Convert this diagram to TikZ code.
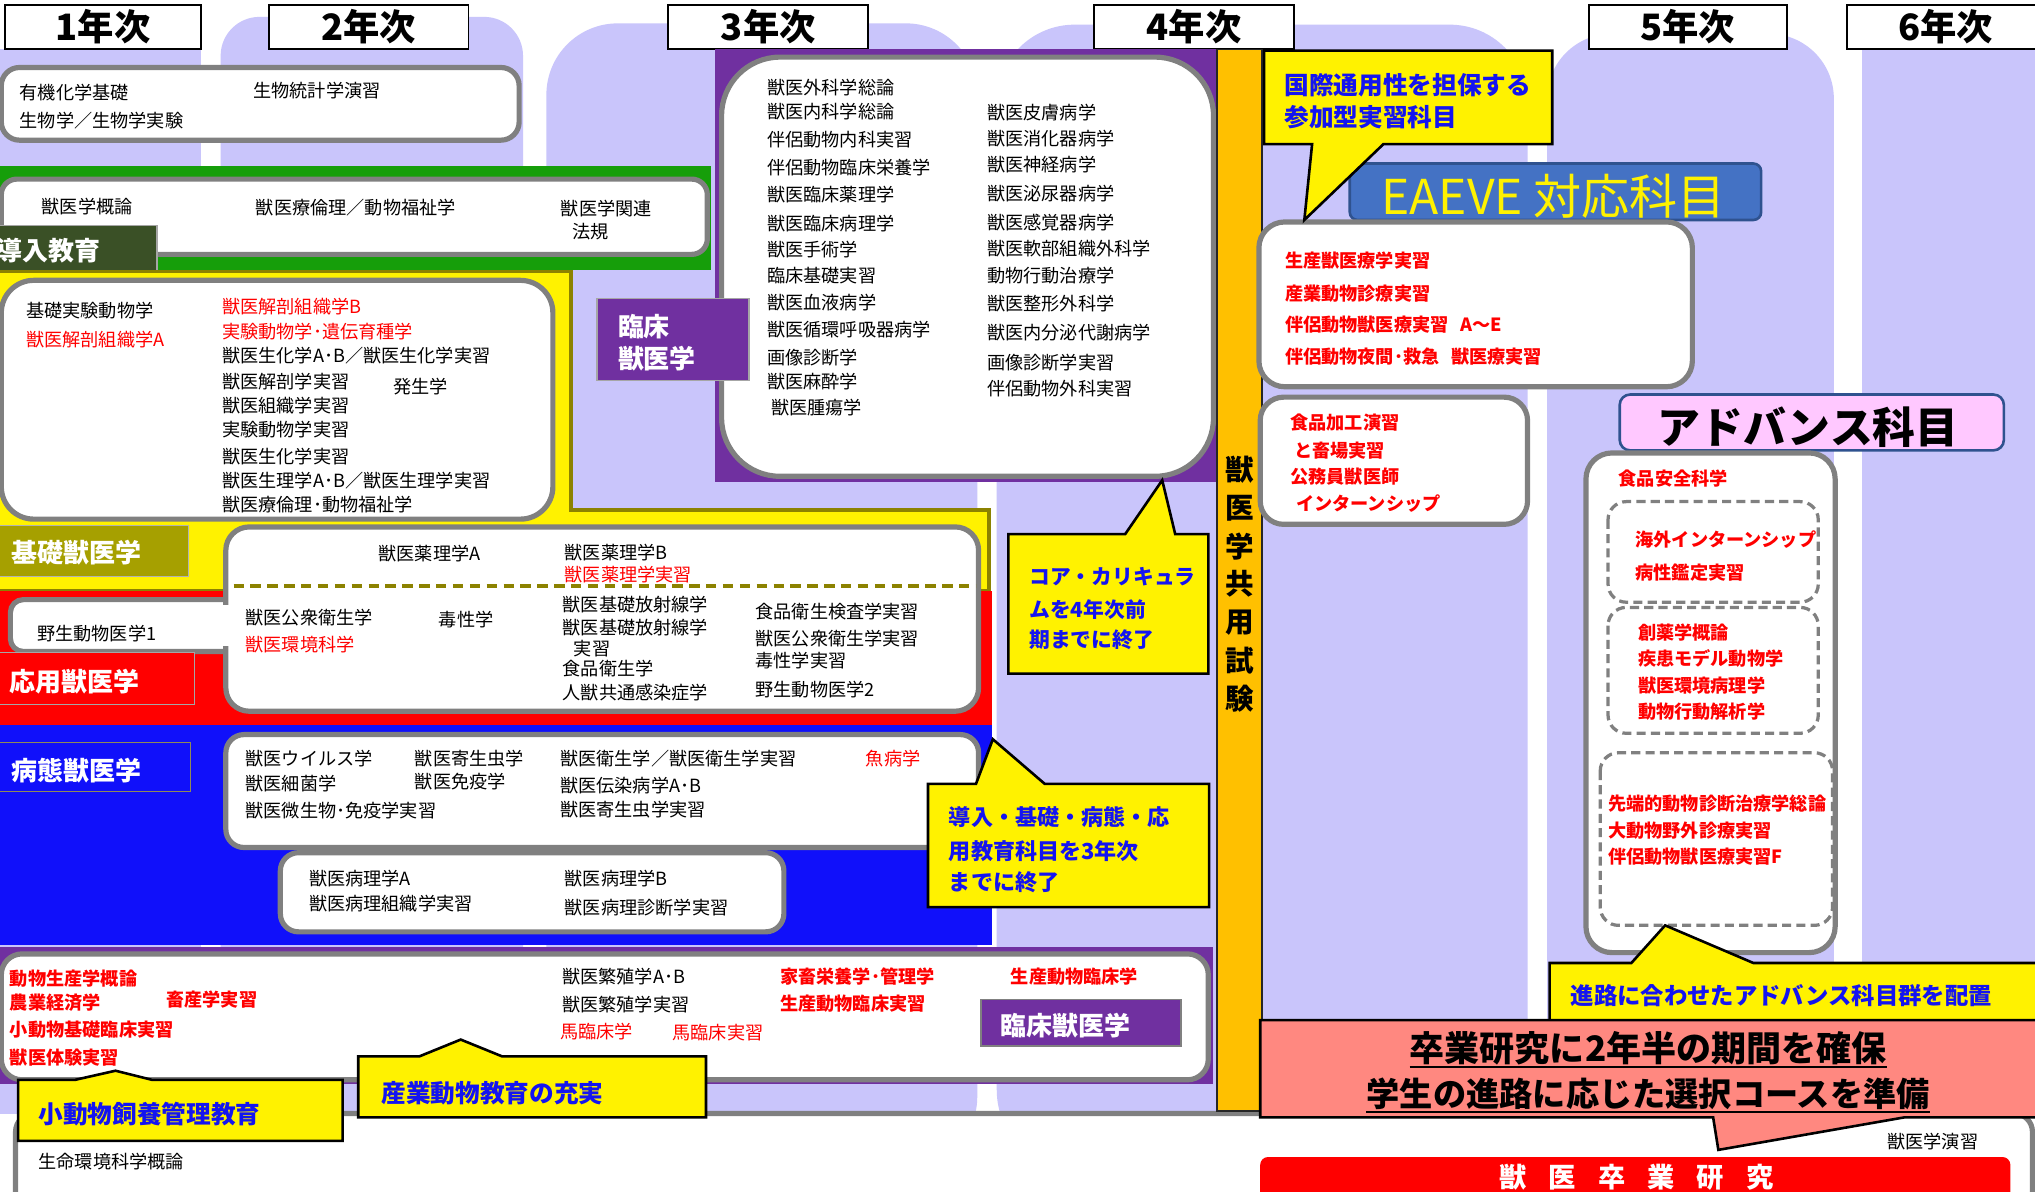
\documentclass[tikz,border=0pt]{standalone}
\usepackage{fontspec}
\setmainfont{Noto Sans CJK JP}
\definecolor{lav}{RGB}{201,197,251}
\definecolor{grn}{RGB}{22,158,10}
\definecolor{dkgrn}{RGB}{58,80,38}
\definecolor{oliv}{RGB}{166,160,0}
\definecolor{olivb}{RGB}{140,130,0}
\definecolor{blu}{RGB}{16,16,250}
\definecolor{purp}{RGB}{112,48,160}
\definecolor{orng}{RGB}{255,192,0}
\definecolor{eblue}{RGB}{68,114,196}
\definecolor{dkblue}{RGB}{47,82,143}
\definecolor{pnk}{RGB}{255,200,255}
\definecolor{salm}{RGB}{255,136,128}
\definecolor{cblue}{RGB}{20,20,240}
\definecolor{gborder}{RGB}{128,128,128}
\begin{document}
\begin{tikzpicture}[x=1pt,y=-1pt,
 txt/.style={anchor=west, inner sep=0pt, font=\fontsize{14}{17}\selectfont},
 txr/.style={txt, text=red},
 txb/.style={txt, text=red, font=\bfseries\fontsize{14}{17}\selectfont},
 gbox/.style={draw=gborder, line width=4pt, fill=white},
 hdr/.style={draw=black, line width=1.5pt, fill=white, inner sep=0pt, minimum height=34.4pt, font=\bfseries\fontsize{28}{30}\selectfont},
 call/.style={draw=black, line width=2pt, fill=yellow, line join=miter},
 ctxt/.style={anchor=west, inner sep=0pt, text=cblue, font=\bfseries\fontsize{19}{22}\selectfont},
 labt/.style={anchor=west, inner sep=0pt, text=white, font=\bfseries\fontsize{20}{22}\selectfont},
 dbox/.style={draw=gborder, line width=2.5pt, dash pattern=on 7pt off 4pt, rounded corners=14pt}
]
\useasboundingbox (0,0) rectangle (1568,918);
\clip (0,0) rectangle (1568,918);
\fill[white] (0,0) rectangle (1568,918);
% lavender year columns
\fill[lav] (0,38) rectangle (155,858);
\fill[lav, rounded corners=30pt] (170,13) rectangle (403,900);
\fill[lav, rounded corners=55pt] (421,18) rectangle (753,900);
\fill[lav, rounded corners=60pt] (768,19) rectangle (1177,900);
\fill[lav, rounded corners=50pt] (1192,26) rectangle (1413,900);
\fill[lav] (1435,38) rectangle (1568,858);
% headers
\node[hdr, minimum width=151pt] (h1) at (79.5,20.8) {1年次};
\node[hdr, minimum width=154pt] (h2) at (284,20.8) {2年次};
\node[hdr, minimum width=154pt] (h3) at (592,20.8) {3年次};
\node[hdr, minimum width=154pt] (h4) at (920,20.8) {4年次};
\node[hdr, minimum width=153pt] (h5) at (1300.5,20.8) {5年次};
\node[hdr, minimum width=152pt] (h6) at (1499,20.8) {6年次};
% row 1
\draw[gbox, rounded corners=14pt] (1,52) rectangle (400,108);
\node[txt] (a1) at (15,71) {有機化学基礎};
\node[txt] (a2) at (15,93) {生物学／生物学実験};
\node[txt] (a3) at (195,70) {生物統計学演習};
% green band
\fill[grn] (0,128) rectangle (548,208);
\draw[gbox, rounded corners=12pt] (1,138) rectangle (545,196);
\node[txt] (b1) at (32,159) {獣医学概論};
\node[txt] (b2) at (197,160) {獣医療倫理／動物福祉学};
\node[txt] (b3) at (432,161) {獣医学関連};
\node[txt] (b4) at (441,178.5) {法規};
\draw[fill=dkgrn, draw=gray!70, line width=1pt] (-2,174) rectangle (121,210);
\node[labt] (lb1) at (-3,193) {導入教育};
% yellow band
\draw[fill=yellow, draw=olivb, line width=2.5pt] (-2,209) -- (440,209) -- (440,393) -- (762,393) -- (762,455) -- (-2,455) -- cycle;
\draw[gbox, rounded corners=25pt] (1,216) rectangle (426,400);
\node[txt] (c1) at (20,239) {基礎実験動物学};
\node[txr] (c2) at (20,262) {獣医解剖組織学A};
\node[txr] (c3) at (171,236) {獣医解剖組織学B};
\node[txr] (c4) at (171,255.6) {実験動物学･遺伝育種学};
\node[txt] (c5) at (171,274.3) {獣医生化学A･B／獣医生化学実習};
\node[txt] (c6) at (171,294) {獣医解剖学実習};
\node[txt] (c7) at (303,298) {発生学};
\node[txt] (c8) at (171,312.6) {獣医組織学実習};
\node[txt] (c9) at (171,331) {実験動物学実習};
\node[txt] (c10) at (171,352) {獣医生化学実習};
\node[txt] (c11) at (171,370) {獣医生理学A･B／獣医生理学実習};
\node[txt] (c12) at (171,389) {獣医療倫理･動物福祉学};
\draw[fill=oliv, draw=gray!60, line width=1pt] (-2,405) rectangle (145,444);
\node[labt] (lb2) at (8.5,426) {基礎獣医学};
% red band
\fill[red] (0,455) rectangle (764,559);
\draw[gbox, rounded corners=10pt] (8,462) rectangle (200,502);
\node[txt] (d0) at (28.5,488) {野生動物医学1};
\draw[fill=red, draw=gray!70, line width=1pt] (-2,503) rectangle (150,543);
\node[labt] (lb3) at (7.5,525.5) {応用獣医学};
% blue band
\fill[blu] (0,559) rectangle (764,728);
\draw[fill=blu, draw=gray!60!olive, line width=1pt] (-2,572) rectangle (147,610);
\node[labt] (lb4) at (9,594) {病態獣医学};
\draw[gbox, rounded corners=14pt] (174,566) rectangle (754,653);
\node[txt] (e1) at (189,584.4) {獣医ウイルス学};
\node[txt] (e2) at (189,603.5) {獣医細菌学};
\node[txt] (e3) at (189,624.6) {獣医微生物･免疫学実習};
\node[txt] (e4) at (319.5,584.4) {獣医寄生虫学};
\node[txt] (e5) at (319.5,602) {獣医免疫学};
\node[txt] (e6) at (431.5,584.4) {獣医衛生学／獣医衛生学実習};
\node[txt] (e7) at (431.5,605) {獣医伝染病学A･B};
\node[txt] (e8) at (431.5,624) {獣医寄生虫学実習};
\node[txr] (e9) at (667,584.4) {魚病学};
\draw[gbox, rounded corners=14pt] (216,657) rectangle (604,718);
\node[txt] (f1) at (238,677) {獣医病理学A};
\node[txt] (f2) at (238,696) {獣医病理組織学実習};
\node[txt] (f3) at (435,677) {獣医病理学B};
\node[txt] (f4) at (435,699.7) {獣医病理診断学実習};
% middle box (basic / applied)
\draw[gbox, rounded corners=18pt] (174,406) rectangle (754,548);
\fill[white] (168,466) rectangle (182,498);
\draw[olivb, line width=2.5pt, dash pattern=on 8pt off 5pt] (180,451.5) -- (752,451.5);
\node[txt] (g1) at (291.5,426.4) {獣医薬理学A};
\node[txt] (g2) at (435,425.6) {獣医薬理学B};
\node[txr] (g3) at (435,442.4) {獣医薬理学実習};
\node[txt] (g4) at (189,475.5) {獣医公衆衛生学};
\node[txr] (g5) at (189,497) {獣医環境科学};
\node[txt] (g6) at (338,477) {毒性学};
\node[txt] (g7) at (433.4,466) {獣医基礎放射線学};
\node[txt] (g8) at (433.4,483.4) {獣医基礎放射線学};
\node[txt] (g9) at (442,499.5) {実習};
\node[txt] (g10) at (433.4,515.5) {食品衛生学};
\node[txt] (g11) at (433.4,534) {人獣共通感染症学};
\node[txt] (g12) at (582,471) {食品衛生検査学実習};
\node[txt] (g13) at (582,491.8) {獣医公衆衛生学実習};
\node[txt] (g14) at (582,509) {毒性学実習};
\node[txt] (g15) at (582,531.6) {野生動物医学2};
% 3rd-year clinical panel
\fill[purp] (551,38) rectangle (937,371);
\draw[gbox, rounded corners=45pt] (556,44) rectangle (935,367);
\draw[fill=purp, draw=gray!70, line width=1pt] (460,230) rectangle (577,293);
\node[labt] (lb5) at (476,251.7) {臨床};
\node[labt] (lb6) at (476,276) {獣医学};
\node[txt] (k1) at (591,67.3) {獣医外科学総論};
\node[txt] (k2) at (591,86) {獣医内科学総論};
\node[txt] (k3) at (591,107.4) {伴侶動物内科実習};
\node[txt] (k4) at (591,129.2) {伴侶動物臨床栄養学};
\node[txt] (k5) at (591,149.7) {獣医臨床薬理学};
\node[txt] (k6) at (591,172.6) {獣医臨床病理学};
\node[txt] (k7) at (591,192) {獣医手術学};
\node[txt] (k8) at (591,212.4) {臨床基礎実習};
\node[txt] (k9) at (591,233.2) {獣医血液病学};
\node[txt] (k10) at (591,253.7) {獣医循環呼吸器病学};
\node[txt] (k11) at (591,275.6) {画像診断学};
\node[txt] (k12) at (591,294) {獣医麻酔学};
\node[txt] (k13) at (594,313.8) {獣医腫瘍学};
\node[txt] (m1) at (760.5,86.8) {獣医皮膚病学};
\node[txt] (m2) at (760.5,106.6) {獣医消化器病学};
\node[txt] (m3) at (760.5,127) {獣医神経病学};
\node[txt] (m4) at (760.5,149.5) {獣医泌尿器病学};
\node[txt] (m5) at (760.5,171.6) {獣医感覚器病学};
\node[txt] (m6) at (760.5,191.3) {獣医軟部組織外科学};
\node[txt] (m7) at (760.5,212.7) {動物行動治療学};
\node[txt] (m8) at (760.5,233.7) {獣医整形外科学};
\node[txt] (m9) at (760.5,256.3) {獣医内分泌代謝病学};
\node[txt] (m10) at (760.5,279.2) {画像診断学実習};
\node[txt] (m11) at (760.5,299.2) {伴侶動物外科実習};
% bottom purple band
\fill[purp] (0,730) rectangle (935,835);
\draw[gbox, rounded corners=16pt] (1,735) rectangle (931,832);
\node[txb] (p1) at (7.5,753.7) {動物生産学概論};
\node[txb] (p2) at (7.5,772.6) {農業経済学};
\node[txb] (p3) at (128,770) {畜産学実習};
\node[txb] (p4) at (7.5,793) {小動物基礎臨床実習};
\node[txb] (p5) at (7.5,814.6) {獣医体験実習};
\node[txt] (p6) at (433,752.5) {獣医繁殖学A･B};
\node[txt] (p7) at (433,774.4) {獣医繁殖学実習};
\node[txr] (p8) at (431.5,795) {馬臨床学};
\node[txr] (p9) at (518,795.7) {馬臨床実習};
\node[txb] (p10) at (601,752.5) {家畜栄養学･管理学};
\node[txb] (p11) at (601,773.6) {生産動物臨床実習};
\node[txb] (p12) at (778.7,752.5) {生産動物臨床学};
\draw[fill=purp, draw=gray, line width=1.2pt] (756,770) rectangle (910,806);
\node[labt] (lb7) at (771,790) {臨床獣医学};
% bottom white box
\draw[gbox, rounded corners=14pt] (12,858) rectangle (1566,960);
\node[txt] (q1) at (29.5,895) {生命環境科学概論};
\node[txt] (q2) at (1454,879.7) {獣医学演習};
% orange bar
\draw[fill=orng, draw=black!85, line width=1.2pt] (937.5,38) rectangle (972.5,856);
\foreach \ch/\yy [count=\i] in {獣/362,医/391.5,学/420.8,共/450,用/479.4,試/508.7,験/538}
  \node[inner sep=0pt, font=\bfseries\fontsize{22}{24}\selectfont] (v\i) at (955,\yy) {\ch};
% EAEVE
\draw[fill=eblue, draw=dkblue, line width=2pt, rounded corners=6pt] (1040,126) rectangle (1357,169.5);
\node[inner sep=0pt, text=yellow, font=\fontsize{37}{40}\selectfont] (ea) at (1197,151.5) {EAEVE 対応科目};
\draw[gbox, rounded corners=20pt] (970,171) rectangle (1304,298);
\node[txb] (r1) at (990,201) {生産獣医療学実習};
\node[txb] (r2) at (990,226) {産業動物診療実習};
\node[txb] (r3) at (990,250) {伴侶動物獣医療実習\hspace{9pt}A～E};
\node[txb] (r4) at (990,275) {伴侶動物夜間･救急\hspace{9pt}獣医療実習};
\draw[gbox, rounded corners=18pt] (971,306) rectangle (1177,404);
\node[txb] (s1) at (994,326) {食品加工演習};
\node[txb] (s2) at (997,347) {と畜場実習};
\node[txb] (s3) at (994,367.5) {公務員獣医師};
\node[txb] (s4) at (998.5,388) {インターンシップ};
% advanced
\draw[fill=pnk, draw=dkblue, line width=2pt, rounded corners=8pt] (1248,304) rectangle (1544,347);
\node[inner sep=0pt, font=\bfseries\fontsize{33}{36}\selectfont] (ad) at (1393,329) {アドバンス科目};
\draw[gbox, rounded corners=20pt] (1222,349) rectangle (1414,734);
\node[txb] (u1) at (1247,369) {食品安全科学};
\draw[dbox] (1239,386.5) rectangle (1401,464);
\node[txb] (u2) at (1260,416) {海外インターンシップ};
\node[txb] (u3) at (1260,441.6) {病性鑑定実習};
\draw[dbox] (1239,468) rectangle (1401,565);
\node[txb] (u4) at (1262,487) {創薬学概論};
\node[txb] (u5) at (1262,507) {疾患モデル動物学};
\node[txb] (u6) at (1262,528) {獣医環境病理学};
\node[txb] (u7) at (1262,548.5) {動物行動解析学};
\draw[dbox] (1233,580) rectangle (1412,713);
\node[txb] (u8) at (1239,619) {先端的動物診断治療学総論};
\node[txb] (u9) at (1239,640) {大動物野外診療実習};
\node[txb] (u10) at (1239,660) {伴侶動物獣医療実習F};
% callouts
\draw[call] (14,832) -- (58,832) -- (89,825) -- (117,832) -- (264,832) -- (264,879) -- (14,879) -- cycle;
\node[ctxt] (x1) at (29.5,858.5) {小動物飼養管理教育};
\draw[call] (276,814) -- (323,814) -- (355,801) -- (387,814) -- (544,814) -- (544,861) -- (276,861) -- cycle;
\node[ctxt] (x2) at (293.7,842) {産業動物教育の充実};
\draw[call] (715,604) -- (752,604) -- (765,569.6) -- (805,604) -- (931.6,604) -- (931.6,699) -- (715,699) -- cycle;
\node[ctxt, font=\bfseries\fontsize{17}{20}\selectfont] (x3) at (731,629.3) {導入・基礎・病態・応};
\node[ctxt, font=\bfseries\fontsize{17}{20}\selectfont] (x4) at (731,656) {用教育科目を3年次};
\node[ctxt, font=\bfseries\fontsize{17}{20}\selectfont] (x5) at (731,679.5) {までに終了};
\draw[call] (777,411.5) -- (867,411.5) -- (895.5,370) -- (905.5,411.5) -- (931,411.5) -- (931,519) -- (777,519) -- cycle;
\node[ctxt, font=\bfseries\fontsize{16}{19}\selectfont] (x6) at (793,444) {コア・カリキュラ};
\node[ctxt, font=\bfseries\fontsize{16}{19}\selectfont] (x7) at (793,470) {ムを4年次前};
\node[ctxt, font=\bfseries\fontsize{16}{19}\selectfont] (x8) at (793,493) {期までに終了};
\draw[call] (974,39) -- (1196,39) -- (1196,111) -- (1066,111) -- (1005,169.5) -- (1011,111) -- (974,111) -- cycle;
\node[ctxt] (x9) at (989.5,65.5) {国際通用性を担保する};
\node[ctxt] (x10) at (989.5,90) {参加型実習科目};
\draw[call] (1194,742) -- (1257,742) -- (1283,713) -- (1351,742) -- (1575,742) -- (1575,795) -- (1194,795) -- cycle;
\node[ctxt, font=\bfseries\fontsize{18}{21}\selectfont] (x11) at (1210,767) {進路に合わせたアドバンス科目群を配置};
\draw[fill=salm, draw=black, line width=2pt] (971,786) -- (1575,786) -- (1575,861) -- (1467,861) -- (1324,886) -- (1320,861) -- (971,861) -- cycle;
\node[inner sep=0pt, font=\bfseries\fontsize{27}{30}\selectfont] (y1) at (1270,808) {卒業研究に2年半の期間を確保};
\node[inner sep=0pt, font=\bfseries\fontsize{25.6}{29}\selectfont] (y2) at (1270,843) {学生の進路に応じた選択コースを準備};
\draw[line width=1.6pt] ([yshift=-1pt]y1.south west) -- ([yshift=-1pt]y1.south east);
\draw[line width=1.6pt] ([yshift=-1pt]y2.south west) -- ([yshift=-1pt]y2.south east);
\fill[red, rounded corners=6pt] (971,891.5) rectangle (1549,940);
\node[inner sep=0pt, text=white, font=\bfseries\fontsize{21}{24}\selectfont] (z1) at (1261,907) {獣\hspace{17pt}医\hspace{17pt}卒\hspace{17pt}業\hspace{17pt}研\hspace{17pt}究};
\end{tikzpicture}
\end{document}
